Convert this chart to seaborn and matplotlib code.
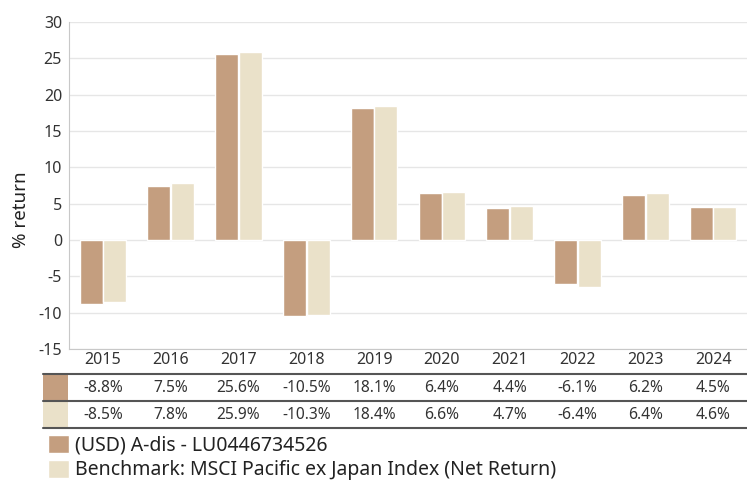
import matplotlib
matplotlib.use("Agg")
import matplotlib.pyplot as plt
from matplotlib.lines import Line2D
from matplotlib.patches import Rectangle
import matplotlib.transforms as mtransforms
import pandas as pd
import seaborn as sns

years = ["2015", "2016", "2017", "2018", "2019", "2020", "2021", "2022", "2023", "2024"]
fund = [-8.8, 7.5, 25.6, -10.5, 18.1, 6.4, 4.4, -6.1, 6.2, 4.5]
bench = [-8.5, 7.8, 25.9, -10.3, 18.4, 6.6, 4.7, -6.4, 6.4, 4.6]
series = ["(USD) A-dis - LU0446734526", "Benchmark: MSCI Pacific ex Japan Index (Net Return)"]
colours = ["#C49E7F", "#EAE1C9"]

sns.set_style("white")
plt.rcParams["font.family"] = ["Noto Sans", "DejaVu Sans"]
plt.rcParams["axes.unicode_minus"] = False

df = pd.DataFrame({
    "year": years * 2,
    "value": fund + bench,
    "series": [series[0]] * len(years) + [series[1]] * len(years),
})

W, H = 747, 484
fig = plt.figure(figsize=(W / 100, H / 100), dpi=100)
ax = fig.add_axes([69 / W, (H - 349) / H, 678 / W, 327 / H])

sns.barplot(data=df, x="year", y="value", hue="series", palette=colours,
            width=0.7, gap=0.03, saturation=1, ax=ax, legend=True)

ax.set_ylim(-15, 30)
ax.set_yticks(range(-15, 31, 5))
ax.yaxis.grid(True, color="#e6e6e6", lw=1)
ax.set_axisbelow(True)
ax.set_xlabel("")
ax.set_ylabel("% return", fontsize=13.5, color="#222222")
ax.yaxis.set_label_coords(-39 / 678, 0.425)
ax.tick_params(axis="both", labelsize=11.5, colors="#333333", length=0)
ax.tick_params(axis="y", pad=5)
ax.tick_params(axis="x", pad=2)
for s in ["top", "right"]:
    ax.spines[s].set_visible(False)
for s in ["left", "bottom"]:
    ax.spines[s].set_color("#c8c8c8")

handles, labels = ax.get_legend_handles_labels()
ax.get_legend().remove()

# table under the chart
trans = mtransforms.blended_transform_factory(ax.transData, fig.transFigure)
def fy(py):
    return (H - py) / H

for py in [374, 401, 428]:
    fig.add_artist(Line2D([43 / W, 1], [fy(py), fy(py)], color="#555555", lw=1.5,
                          transform=fig.transFigure))
for i, (top, bot) in enumerate([(375, 400), (402, 427)]):
    fig.add_artist(Rectangle((43 / W, fy(bot)), 25 / W, (bot - top) / H,
                             color=colours[i], transform=fig.transFigure, lw=0))
for row, vals in [(388, fund), (415, bench)]:
    for i, v in enumerate(vals):
        ax.text(i, fy(row), f"{v:.1f}%", transform=trans, ha="center", va="center",
                fontsize=11.2, color="#333333", clip_on=False)

fig.legend(handles, labels, loc="upper left", bbox_to_anchor=(48 / W, fy(435)),
           frameon=False, fontsize=14, handlelength=1.07, handleheight=1.07,
           labelspacing=0.2, handletextpad=0.3, borderpad=0, borderaxespad=0,
           labelcolor="#222222")

fig.savefig("out.png", dpi=100)
